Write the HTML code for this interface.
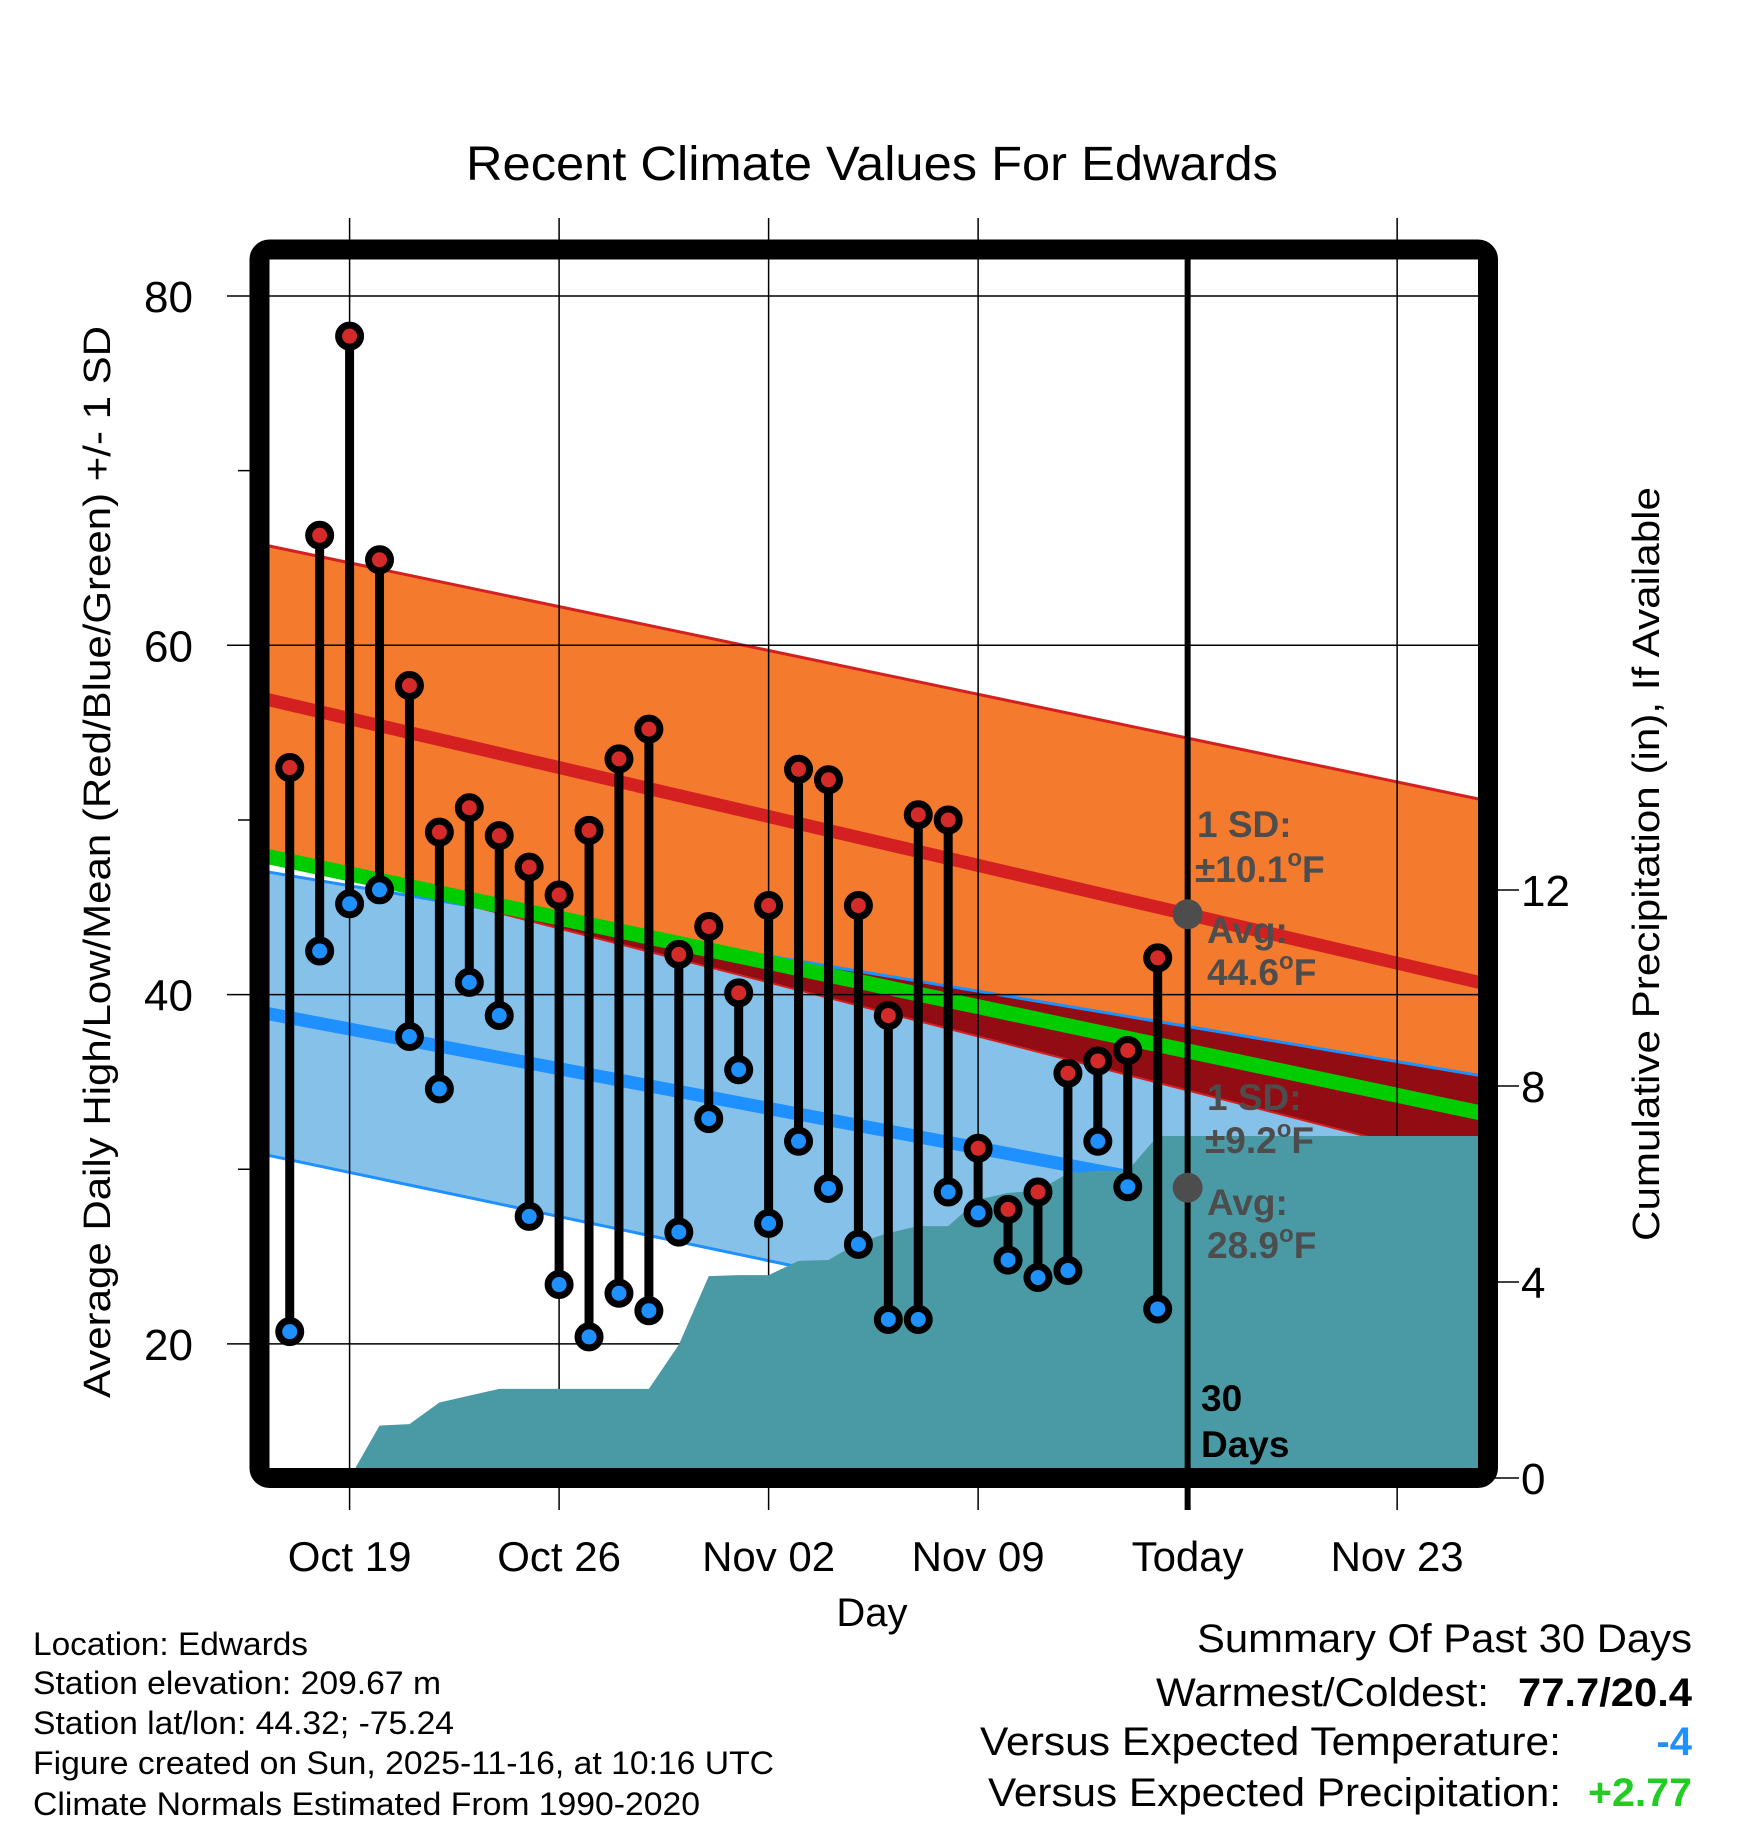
<!DOCTYPE html>
<html><head><meta charset="utf-8"><style>
html,body{margin:0;padding:0;background:#fff}
svg{display:block;font-family:"Liberation Sans",Arial,sans-serif}
</style></head><body>
<svg id="chart" width="1748" height="1828" viewBox="0 0 1748 1828" xmlns="http://www.w3.org/2000/svg">
<defs><clipPath id="plotclip"><rect x="260" y="250" width="1228" height="1228"/></clipPath></defs>
<rect width="1748" height="1828" fill="#fff"/>
<g id="layer-fill" clip-path="url(#plotclip)"></g>
<g id="layer-top"></g>
<text x="872" y="180" font-size="48" text-anchor="middle" textLength="812" lengthAdjust="spacingAndGlyphs">Recent Climate Values For Edwards</text>
<text x="872" y="1626" font-size="40" text-anchor="middle">Day</text>
<text transform="translate(110,862) rotate(-90)" font-size="38" text-anchor="middle" textLength="1072" lengthAdjust="spacingAndGlyphs">Average Daily High/Low/Mean (Red/Blue/Green) +/- 1 SD</text>
<text transform="translate(1659,864) rotate(-90)" font-size="38" text-anchor="middle" textLength="754" lengthAdjust="spacingAndGlyphs">Cumulative Precipitation (in), If Available</text>
<g font-size="32">
<text x="33" y="1655" textLength="275" lengthAdjust="spacingAndGlyphs">Location: Edwards</text>
<text x="33" y="1694" textLength="408" lengthAdjust="spacingAndGlyphs">Station elevation: 209.67 m</text>
<text x="33" y="1734" textLength="421" lengthAdjust="spacingAndGlyphs">Station lat/lon: 44.32; -75.24</text>
<text x="33" y="1774" textLength="741" lengthAdjust="spacingAndGlyphs">Figure created on Sun, 2025-11-16, at 10:16 UTC</text>
<text x="33" y="1815" textLength="667" lengthAdjust="spacingAndGlyphs">Climate Normals Estimated From 1990-2020</text>
</g>
<g font-size="40">
<text x="1692" y="1652" text-anchor="end" textLength="495" lengthAdjust="spacingAndGlyphs">Summary Of Past 30 Days</text>
<text x="1489" y="1706" text-anchor="end" textLength="333" lengthAdjust="spacingAndGlyphs">Warmest/Coldest:</text>
<text x="1692" y="1706" text-anchor="end" font-weight="bold" textLength="174" lengthAdjust="spacingAndGlyphs">77.7/20.4</text>
<text x="1561" y="1755" text-anchor="end" textLength="581" lengthAdjust="spacingAndGlyphs">Versus Expected Temperature:</text>
<text x="1692" y="1755" text-anchor="end" font-weight="bold" fill="#1e90ff">-4</text>
<text x="1561" y="1806" text-anchor="end" textLength="573" lengthAdjust="spacingAndGlyphs">Versus Expected Precipitation:</text>
<text x="1692" y="1806" text-anchor="end" font-weight="bold" fill="#22cc22" textLength="104" lengthAdjust="spacingAndGlyphs">+2.77</text>
</g>
</svg>
<script>
// ---- data ----
const highs=[53.0,66.3,77.7,64.9,57.7,49.3,50.7,49.1,47.3,45.7,49.4,53.5,55.2,42.3,43.9,40.1,45.1,52.9,52.3,45.1,38.8,50.3,50.0,31.2,27.7,28.7,35.5,36.2,36.8,42.1];
const lows=[20.7,42.5,45.2,46.0,37.6,34.6,40.7,38.8,27.3,23.4,20.4,22.9,21.9,26.4,32.9,35.7,26.9,31.6,28.9,25.7,21.4,21.4,28.7,27.5,24.8,23.8,24.2,31.6,29.0,22.0];
const precip=[0,0,0,1.07,1.1,1.54,1.68,1.82,1.82,1.82,1.82,1.82,1.82,2.72,4.12,4.14,4.14,4.43,4.45,4.8,5.0,5.14,5.14,5.68,5.82,5.86,6.22,6.27,6.27,6.98];
const normDays=[0,41];
const normHigh=[57.0,40.6];
const normHighSD=[8.8,10.5];
const normLow=[39.0,25.7];
const normLowSD=[8.1,9.6];
const xTickDays=[3,10,17,24,31,38];
const xTickLabels=["Oct 19","Oct 26","Nov 02","Nov 09","Today","Nov 23"];
const yTicks=[20,40,60,80];
const yMinorTicks=[30,50,70];
const pTicks=[0,4,8,12];
const firstDataDay=1, todayDay=31;

// ---- axes ----
const X0=259.8, DX=29.93;
const x=d=>X0+d*DX;
const y=t=>296+(80-t)*17.465;
const yp=p=>1478-p*49.0;
const NS="http://www.w3.org/2000/svg";
const fillL=document.getElementById('layer-fill');
const topL=document.getElementById('layer-top');
function mk(tag,attrs,parent){const e=document.createElementNS(NS,tag);for(const k in attrs)e.setAttribute(k,attrs[k]);parent.appendChild(e);return e;}
const lerp=(arr,d)=>arr[0]+(arr[1]-arr[0])*(d-normDays[0])/(normDays[1]-normDays[0]);
const d0=normDays[0], d1=normDays[1];
function band(fn1,fn2){return `${x(d0)},${y(fn1(d0))} ${x(d1)},${y(fn1(d1))} ${x(d1)},${y(fn2(d1))} ${x(d0)},${y(fn2(d0))}`;}
const hU=d=>lerp(normHigh,d)+lerp(normHighSD,d), hL=d=>lerp(normHigh,d)-lerp(normHighSD,d);
const lU=d=>lerp(normLow,d)+lerp(normLowSD,d), lL=d=>lerp(normLow,d)-lerp(normLowSD,d);
const mean=d=>(lerp(normHigh,d)+lerp(normLow,d))/2;

let e;
e=mk('polygon',{points:band(hU,hL),fill:'#f47a2e'},fillL);


e=mk('polygon',{points:band(lU,lL),fill:'#85c1e9'},fillL);


const cp=mk('clipPath',{id:'hiclip'},document.querySelector('defs'));
mk('polygon',{points:band(hU,hL)},cp);
e=mk('polygon',{points:band(lU,lL),fill:'#920c14','clip-path':'url(#hiclip)'},fillL);


function nline(fn,color,w,name){const l=mk('line',{x1:x(d0),y1:y(fn(d0)),x2:x(d1),y2:y(fn(d1)),stroke:color,'stroke-width':w},fillL);

}
nline(hU,'#d42020',3,'high-sd-upper-line');
nline(hL,'#d42020',2,'high-sd-lower-line');
nline(lU,'#1e90ff',3,'low-sd-upper-line');
nline(lL,'#1e90ff',3,'low-sd-lower-line');
nline(d=>lerp(normHigh,d),'#d42020',13,'avg-high-line');
nline(d=>lerp(normLow,d),'#1e90ff',13,'avg-low-line');
nline(mean,'#00cc00',15,'avg-mean-line');
// grid
yTicks.forEach(t=>{e=mk('line',{x1:227,y1:y(t),x2:1488,y2:y(t),stroke:'#000','stroke-width':1.5},topL);

});
xTickDays.forEach((d,i)=>{if(i===4)return;e=mk('line',{x1:x(d),y1:218,x2:x(d),y2:1510,stroke:'#000','stroke-width':1.5},topL);

});
// precip area
let pts=`${x(firstDataDay+2)},${yp(0)} `;
precip.forEach((p,i)=>{if(i>=2)pts+=`${x(firstDataDay+i)},${yp(p)} `;});
pts+=`${x(41)},${yp(precip[precip.length-1])} ${x(41)},${yp(0)}`;
const tg=mk('g',{'clip-path':'url(#plotclip)'},topL);
e=mk('polygon',{points:pts,fill:'#4a9aa5'},tg);


// minor ticks / right ticks
yMinorTicks.forEach(t=>{e=mk('line',{x1:238,y1:y(t),x2:260,y2:y(t),stroke:'#000','stroke-width':1.5},topL);

});
pTicks.forEach(p=>{e=mk('line',{x1:1488,y1:yp(p),x2:1519,y2:yp(p),stroke:'#000','stroke-width':1.5},topL);


 e=mk('text',{x:1521,y:yp(p)+16,'font-size':44},topL);e.textContent=p;

});
yTicks.forEach(t=>{e=mk('text',{x:193,y:y(t)+16,'font-size':44,'text-anchor':'end'},topL);e.textContent=t;

});
xTickDays.forEach((d,i)=>{e=mk('text',{x:x(d),y:1571,'font-size':42,'text-anchor':'middle'},topL);e.textContent=xTickLabels[i];

});
// today line
e=mk('line',{x1:x(todayDay),y1:250,x2:x(todayDay),y2:1510,stroke:'#000','stroke-width':6},topL);


// daily stems and dots
highs.forEach((h,i)=>{const cx=x(firstDataDay+i);
 e=mk('line',{x1:cx,y1:y(h),x2:cx,y2:y(lows[i]),stroke:'#000','stroke-width':9},topL);
 
 
 e=mk('circle',{cx:cx,cy:y(h),r:11,fill:'#d42a2a',stroke:'#000','stroke-width':7},topL);
 
 
 e=mk('circle',{cx:cx,cy:y(lows[i]),r:11,fill:'#1e90ff',stroke:'#000','stroke-width':7},topL);
 
 
});
// today avg markers
[lerp(normHigh,todayDay),lerp(normLow,todayDay)].forEach(v=>{e=mk('circle',{cx:x(todayDay),cy:y(v),r:15,fill:'#4d4d4d'},topL);

});
// annotations
const hi=lerp(normHigh,todayDay).toFixed(1), lo=lerp(normLow,todayDay).toFixed(1);
const deg='<tspan font-size="24" dy="-16">o</tspan><tspan dy="16">F</tspan>';
const ann=[[1197,837,'1 SD:'],[1195,882,'±10.1'+deg],[1207,943,'Avg:'],[1207,985,hi+deg],
[1207,1110,'1 SD:'],[1205,1153,'±9.2'+deg],[1207,1215,'Avg:'],[1207,1258,lo+deg]];
ann.forEach(a=>{e=mk('text',{x:a[0],y:a[1],'font-size':37,'font-weight':'bold',fill:'#4d4d4d'},topL);e.innerHTML=a[2];

});
[[1201,1411,'30'],[1201,1457,'Days']].forEach(a=>{e=mk('text',{x:a[0],y:a[1],'font-size':37,'font-weight':'bold',fill:'#000'},topL);e.textContent=a[2];

});
// frame
e=mk('rect',{x:259.5,y:249.5,width:1228.5,height:1228.5,rx:10,fill:'none',stroke:'#000','stroke-width':20},topL);


</script>
</body></html>
